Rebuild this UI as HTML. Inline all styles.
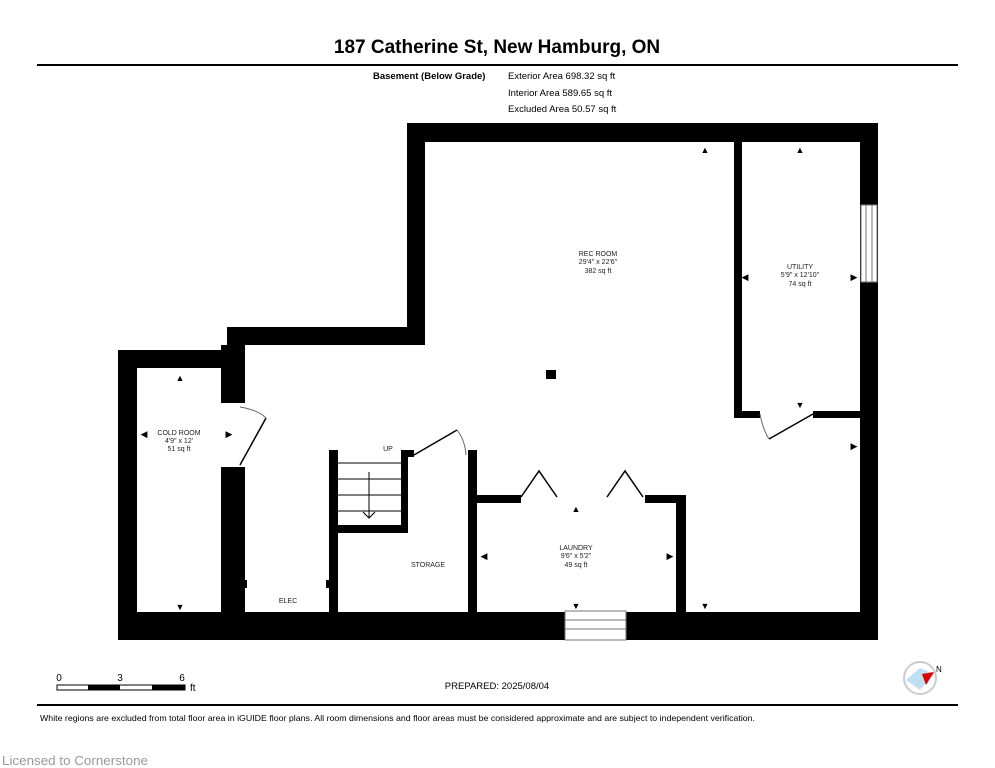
<!DOCTYPE html>
<html><head><meta charset="utf-8"><style>
html,body{margin:0;padding:0;background:#fff;}
svg{display:block;font-family:"Liberation Sans",sans-serif;}
</style></head><body>
<svg width="995" height="768" viewBox="0 0 995 768" xmlns="http://www.w3.org/2000/svg">
<rect width="995" height="768" fill="#fff"/>
<text x="497" y="53" font-size="19" font-weight="bold" text-anchor="middle">187 Catherine St, New Hamburg, ON</text>
<rect x="37" y="64" width="921" height="2" fill="#000"/>
<text x="373" y="79" font-size="9.5" font-weight="bold">Basement (Below Grade)</text>
<text x="508" y="79" font-size="9.5">Exterior Area 698.32 sq ft</text>
<text x="508" y="96" font-size="9.5">Interior Area 589.65 sq ft</text>
<text x="508" y="112" font-size="9.5">Excluded Area 50.57 sq ft</text>
<g fill="#000">
<rect x="407" y="123" width="471" height="19"/>
<rect x="860" y="123" width="18" height="517"/>
<rect x="118" y="612" width="760" height="28"/>
<rect x="118" y="350" width="19" height="290"/>
<rect x="118" y="350" width="127" height="18"/>
<rect x="227" y="327" width="198" height="18"/>
<rect x="407" y="123" width="18" height="222"/>
<rect x="221" y="345" width="24" height="58"/>
<rect x="221" y="467" width="24" height="145"/>
<rect x="329" y="450" width="9" height="162"/>
<rect x="337" y="525" width="71" height="8"/>
<rect x="401" y="450" width="7" height="83"/>
<rect x="401" y="450" width="13" height="7"/>
<rect x="468" y="450" width="9" height="162"/>
<rect x="468" y="450" width="6" height="7"/>
<rect x="477" y="495" width="44" height="8"/>
<rect x="645" y="495" width="41" height="8"/>
<rect x="676" y="495" width="10" height="117"/>
<rect x="734" y="142" width="8" height="276"/>
<rect x="734" y="411" width="26" height="7"/>
<rect x="813" y="411" width="47" height="7"/>
<rect x="546" y="370" width="10" height="9"/>
<rect x="244" y="580" width="3" height="8"/><rect x="326" y="580" width="3" height="8"/>
</g>
<rect x="861" y="205" width="16" height="77" fill="#fff" stroke="#777" stroke-width="1"/>
<line x1="866" y1="205" x2="866" y2="282" stroke="#777"/><line x1="872" y1="205" x2="872" y2="282" stroke="#777"/>
<rect x="565" y="611" width="61" height="29" fill="#fff" stroke="#777"/>
<line x1="565" y1="620" x2="626" y2="620" stroke="#777"/><line x1="565" y1="629" x2="626" y2="629" stroke="#777"/>
<g stroke="#000" stroke-width="1" fill="none">
<line x1="337" y1="463" x2="401" y2="463"/><line x1="337" y1="479" x2="401" y2="479"/>
<line x1="337" y1="495" x2="401" y2="495"/><line x1="337" y1="511" x2="401" y2="511"/>
<line x1="369" y1="472" x2="369" y2="518"/><polyline points="363,512 369,518 375,512"/>
<line x1="240" y1="465" x2="266" y2="418" stroke-width="1.5"/>
<path d="M240 407 Q258 410 266 418" stroke="#666"/>
<line x1="414" y1="455" x2="457" y2="430" stroke-width="1.5"/>
<path d="M457 430 Q465 440 466 455" stroke="#666"/>
<line x1="813" y1="414" x2="769" y2="439" stroke-width="1.5"/>
<path d="M760 414 Q763 430 769 439" stroke="#666"/>
<polyline points="521,497 539,471 557,497" stroke-width="1.5"/>
<polyline points="607,497 625,471 643,497" stroke-width="1.5"/>
</g>
<g fill="#000" font-size="9">
<text x="180" y="381" text-anchor="middle">▲</text><text x="180" y="610" text-anchor="middle">▼</text>
<text x="144" y="437" text-anchor="middle">◀</text><text x="229" y="437" text-anchor="middle">▶</text>
<text x="705" y="153" text-anchor="middle">▲</text><text x="800" y="153" text-anchor="middle">▲</text>
<text x="745" y="280" text-anchor="middle">◀</text><text x="854" y="280" text-anchor="middle">▶</text>
<text x="800" y="408" text-anchor="middle">▼</text><text x="854" y="449" text-anchor="middle">▶</text>
<text x="576" y="512" text-anchor="middle">▲</text><text x="576" y="609" text-anchor="middle">▼</text>
<text x="484" y="559" text-anchor="middle">◀</text><text x="670" y="559" text-anchor="middle">▶</text>
<text x="705" y="609" text-anchor="middle">▼</text>
</g>
<g font-size="7" text-anchor="middle" fill="#222">
<text x="179" y="435">COLD ROOM</text><text x="179" y="443">4'9" x 12'</text><text x="179" y="451">51 sq ft</text>
<text x="598" y="256">REC ROOM</text><text x="598" y="264">29'4" x 22'6"</text><text x="598" y="273">382 sq ft</text>
<text x="800" y="269">UTILITY</text><text x="800" y="277">5'9" x 12'10"</text><text x="800" y="286">74 sq ft</text>
<text x="576" y="550">LAUNDRY</text><text x="576" y="558">9'6" x 5'2"</text><text x="576" y="567">49 sq ft</text>
<text x="388" y="451">UP</text><text x="428" y="567">STORAGE</text><text x="288" y="603">ELEC</text>
</g>
<g font-size="10">
<text x="59" y="681" text-anchor="middle">0</text><text x="120" y="681" text-anchor="middle">3</text><text x="182" y="681" text-anchor="middle">6</text>
<text x="190" y="691">ft</text>
</g>
<rect x="57" y="685" width="128" height="5" fill="#fff" stroke="#000" stroke-width="1"/>
<rect x="88" y="685" width="32" height="5" fill="#000"/><rect x="152" y="685" width="33" height="5" fill="#000"/>
<text x="497" y="689" font-size="9.5" text-anchor="middle">PREPARED: 2025/08/04</text>
<circle cx="920" cy="678" r="16" fill="#fff" stroke="#ccc" stroke-width="2"/>
<path d="M906 680 L920 668 L934 674 L920 690 Z" fill="#bfe0f2"/>
<path d="M922 674 L934 672 L926 685 Z" fill="#d00"/>
<text x="936" y="672" font-size="8">N</text>
<rect x="37" y="704" width="921" height="2" fill="#000"/>
<text x="40" y="721" font-size="8.2" textLength="715" lengthAdjust="spacingAndGlyphs">White regions are excluded from total floor area in iGUIDE floor plans. All room dimensions and floor areas must be considered approximate and are subject to independent verification.</text>
<text x="2" y="765" font-size="13" fill="#999" textLength="146" lengthAdjust="spacingAndGlyphs">Licensed to Cornerstone</text>
</svg>
</body></html>
